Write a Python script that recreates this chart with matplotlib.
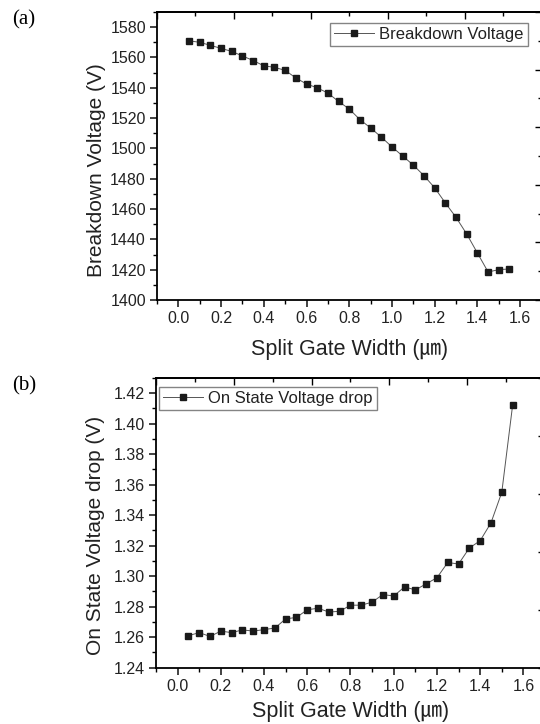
import matplotlib
matplotlib.use("Agg")
from matplotlib import pyplot as plt
from matplotlib.ticker import MultipleLocator, FixedLocator

# split gate width (um)
width = [0.05, 0.10, 0.15, 0.20, 0.25, 0.30, 0.35, 0.40, 0.45, 0.50,
         0.55, 0.60, 0.65, 0.70, 0.75, 0.80, 0.85, 0.90, 0.95, 1.00,
         1.05, 1.10, 1.15, 1.20, 1.25, 1.30, 1.35, 1.40, 1.45, 1.50, 1.55]

breakdown = [1571, 1570, 1568, 1566, 1564, 1561, 1558, 1554.5, 1553.5, 1551.5,
             1546.5, 1542.5, 1540, 1536.5, 1531, 1526, 1519, 1513.5, 1507.5, 1501,
             1495, 1489, 1482, 1474, 1464, 1454.5, 1443.5, 1431, 1418.5, 1420, 1420.5]

on_drop = [1.261, 1.263, 1.2605, 1.264, 1.263, 1.2648, 1.264, 1.265, 1.266, 1.272,
           1.273, 1.278, 1.279, 1.2765, 1.277, 1.281, 1.281, 1.283, 1.288, 1.287,
           1.293, 1.291, 1.295, 1.299, 1.309, 1.308, 1.3185, 1.3233, 1.335, 1.355, 1.412]

fam = ['Liberation Sans', 'Noto Sans CJK JP', 'DejaVu Sans']
plt.rcParams['font.family'] = fam
plt.rcParams['axes.linewidth'] = 1.3

fig = plt.figure(figsize=(5.4, 7.24), dpi=100)
ax1 = fig.add_axes([157/540, 1-300/724, 384.5/540, 288/724])
ax2 = fig.add_axes([156/540, 1-667.7/724, 389/540, 289.7/724])


def style(ax, ylim, ymaj, ymin, ylabel, leg_anchor, lab_xy, xpad):
    ax.plot(width, ylim[2], color='#555555', lw=0.7, marker='s', ms=4.6,
            mfc='#1a1a1a', mec='#1a1a1a', label=ylabel[1])
    ax.set_xlim(-0.1, 1.7)
    ax.set_ylim(ylim[0], ylim[1])
    ax.xaxis.set_major_locator(MultipleLocator(0.2))
    ax.xaxis.set_minor_locator(MultipleLocator(0.1))
    ax.yaxis.set_major_locator(MultipleLocator(ymaj))
    ax.yaxis.set_minor_locator(MultipleLocator(ymin))
    ax.tick_params(which='major', direction='out', length=5, width=1.2,
                   labelsize=11.5, colors='#222222', pad=3)
    ax.tick_params(which='minor', direction='out', length=3, width=1.0)
    ax.set_xlabel('Split Gate Width (㎛)', fontsize=15.5, color='#222222', labelpad=xpad)
    ax.set_ylabel(ylabel[0], fontsize=15, color='#222222')
    ax.yaxis.set_label_coords(lab_xy[0], lab_xy[1])
    # mirrored top / right axes with their own ten-division ticks
    lo, hi = ax.get_xlim()
    top = ax.secondary_xaxis('top')
    top.xaxis.set_major_locator(FixedLocator([lo + (hi - lo) * k / 5 for k in range(6)]))
    top.xaxis.set_minor_locator(FixedLocator([lo + (hi - lo) * (2 * k + 1) / 10 for k in range(5)]))
    top.tick_params(which='major', direction='in', length=5, width=1.0, labeltop=False)
    top.tick_params(which='minor', direction='in', length=3, width=1.0)
    top.spines['top'].set_linewidth(1.3)
    b, t = ylim[0], ylim[1]
    right = ax.secondary_yaxis('right')
    right.yaxis.set_major_locator(FixedLocator([b + (t - b) * k / 5 for k in range(6)]))
    right.yaxis.set_minor_locator(FixedLocator([b + (t - b) * (2 * k + 1) / 10 for k in range(5)]))
    right.tick_params(which='major', direction='in', length=5, width=1.0, labelright=False)
    right.tick_params(which='minor', direction='in', length=3, width=1.0)
    leg = ax.legend(loc=leg_anchor[0], bbox_to_anchor=leg_anchor[1], fontsize=12,
                    frameon=True, fancybox=False, handlelength=2.4,
                    borderpad=0.25, handletextpad=0.3, borderaxespad=0)
    leg.get_frame().set_edgecolor('#666666')
    leg.get_frame().set_linewidth(1.0)
    for txt in leg.get_texts():
        txt.set_color('#222222')


style(ax1, (1400, 1590, breakdown), 20, 10,
      ('Breakdown Voltage (V)', 'Breakdown Voltage'),
      ('upper right', (1 - 13.5/384.5, 1 - 11/288)),
      ((105.5 - 157) / 384.5, (300 - 170) / 288), 9)
style(ax2, (1.24, 1.43, on_drop), 0.02, 0.01,
      ('On State Voltage drop (V)', 'On State Voltage drop'),
      ('upper left', (3/389, 1 - 9/289.7)),
      ((105.5 - 156) / 389, (667.7 - 535) / 289.7), 5.5)

fig.text(12/540, 1-20/724, '(a)', fontsize=15, family='Liberation Serif', va='center')
fig.text(12/540, 1-386/724, '(b)', fontsize=15, family='Liberation Serif', va='center')

fig.savefig('out.png', dpi=100)
